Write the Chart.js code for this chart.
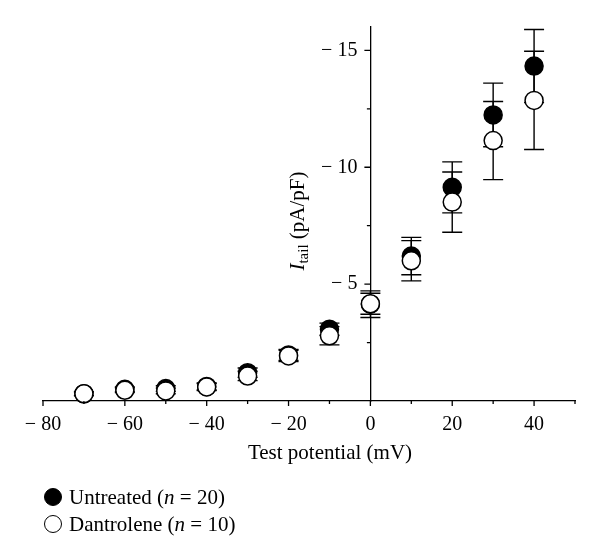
<!DOCTYPE html>
<html>
<head>
<meta charset="utf-8">
<script src="https://cdn.jsdelivr.net/npm/chart.js@4.4.1/dist/chart.umd.min.js"></script>
<style>
  html, body { margin: 0; padding: 0; background: #fff; }
  #wrap { position: relative; width: 600px; height: 557px; }
  .row { position: absolute; left: 44px; height: 28px; display: flex; align-items: center;
         font: 21px "Liberation Serif", serif; color: #000; white-space: nowrap; }
  .dot { width: 18px; height: 18px; border-radius: 50%; border: 1.5px solid #000;
         box-sizing: border-box; margin-right: 7px; }
</style>
</head>
<body>
<div id="wrap">
  <canvas id="myChart" width="600" height="557"></canvas>
  <div class="row" style="top: 483px;"><span class="dot" style="background:#000"></span>Untreated (<i>n</i>&nbsp;=&nbsp;20)</div>
  <div class="row" style="top: 510px;"><span class="dot" style="background:#fff"></span>Dantrolene (<i>n</i>&nbsp;=&nbsp;10)</div>
</div>
<script>
(() => {
    'use strict';

    // Dữ liệu
    const potentials = [-70, -60, -50, -40, -30, -20, -10, 0, 10, 20, 30, 40];
    const untreated = [-0.31, -0.50, -0.53, -0.62, -1.21, -1.97, -3.07, -4.14, -6.20, -9.14, -12.24, -14.33];
    const untreatedErr = [0.08, 0.10, 0.12, 0.15, 0.20, 0.24, 0.26, 0.57, 0.80, 1.09, 1.36, 1.56];
    const dantrolene = [-0.31, -0.46, -0.43, -0.60, -1.07, -1.93, -2.79, -4.16, -6.00, -8.51, -11.14, -12.86];
    const dantroleneErr = [0.08, 0.10, 0.12, 0.15, 0.20, 0.24, 0.39, 0.45, 0.86, 1.29, 1.67, 2.10];

    const xTickValues = [-80, -60, -40, -20, 0, 20, 40];
    const xTickLabels = ['\u2212 80', '\u2212 60', '\u2212 40', '\u2212 20', '0', '20', '40'];
    const xMinorTicks = [-70, -50, -30, -10, 10, 30, 50];
    const yTickValues = [-5, -10, -15];
    const yTickLabels = ['\u2212 5', '\u2212 10', '\u2212 15'];
    const yMinorTicks = [-2.5, -7.5, -12.5];

    const FONT = '"Liberation Serif", serif';

    // Vẽ thanh sai số
    const errorBars = {
        id: 'errorBars',
        beforeDatasetsDraw(chart) {
            const {ctx, scales: {x, y}} = chart;
            ctx.save();
            ctx.strokeStyle = '#000';
            ctx.lineWidth = 1.4;
            chart.data.datasets.forEach(ds => {
                ds.data.forEach((p, i) => {
                    const e = ds.errors[i];
                    const px = x.getPixelForValue(p.x);
                    const top = y.getPixelForValue(p.y - e);
                    const bot = y.getPixelForValue(p.y + e);
                    ctx.beginPath();
                    ctx.moveTo(px, top); ctx.lineTo(px, bot);
                    ctx.moveTo(px - 10, top); ctx.lineTo(px + 10, top);
                    ctx.moveTo(px - 10, bot); ctx.lineTo(px + 10, bot);
                    ctx.stroke();
                });
            });
            ctx.restore();
        }
    };

    // Vạch chia, nhãn trục y và tiêu đề trục
    const axisDecor = {
        id: 'axisDecor',
        afterDraw(chart) {
            const {ctx, scales: {x, y}} = chart;
            const x0 = x.getPixelForValue(0);
            const yb = y.getPixelForValue(0);
            ctx.save();
            ctx.strokeStyle = '#000';
            ctx.lineWidth = 1.3;
            ctx.beginPath();
            xTickValues.forEach(v => { const p = x.getPixelForValue(v); ctx.moveTo(p, yb); ctx.lineTo(p, yb + 5); });
            xMinorTicks.forEach(v => { const p = x.getPixelForValue(v); ctx.moveTo(p, yb); ctx.lineTo(p, yb + 3); });
            yTickValues.forEach(v => { const p = y.getPixelForValue(v); ctx.moveTo(x0, p); ctx.lineTo(x0 - 6, p); });
            yMinorTicks.forEach(v => { const p = y.getPixelForValue(v); ctx.moveTo(x0, p); ctx.lineTo(x0 - 3.5, p); });
            ctx.stroke();

            ctx.fillStyle = '#000';
            ctx.font = '20px ' + FONT;
            ctx.textAlign = 'right';
            ctx.textBaseline = 'middle';
            yTickValues.forEach((v, i) => ctx.fillText(yTickLabels[i], x0 - 13, y.getPixelForValue(v)));

            // tiêu đề trục x
            ctx.font = '21px ' + FONT;
            ctx.textAlign = 'center';
            ctx.textBaseline = 'alphabetic';
            ctx.fillText('Test potential (mV)', (x.left + x.right) / 2 + 21, 459);

            // tiêu đề trục y: I_tail (pA/pF)
            const parts = [
                {t: 'I', f: 'italic 21px ' + FONT, dy: 0},
                {t: 'tail', f: '15px ' + FONT, dy: 4},
                {t: ' (pA/pF)', f: '21px ' + FONT, dy: 0}
            ];
            let total = 0;
            parts.forEach(p => { ctx.font = p.f; p.w = ctx.measureText(p.t).width; total += p.w; });
            ctx.translate(x0 - 66, y.getPixelForValue(-7.7));
            ctx.rotate(-Math.PI / 2);
            ctx.textAlign = 'left';
            let cx = -total / 2;
            parts.forEach(p => { ctx.font = p.f; ctx.fillText(p.t, cx, p.dy); cx += p.w; });
            ctx.restore();
        }
    };

    const ctx = document.getElementById('myChart');

    new Chart(ctx, {
        type: 'scatter',
        data: {
            datasets: [{
                label: 'Dantrolene (n = 10)',
                data: potentials.map((v, i) => ({x: v, y: dantrolene[i]})),
                errors: dantroleneErr,
                pointRadius: 9,
                pointBackgroundColor: '#fff',
                pointBorderColor: '#000',
                pointBorderWidth: 1.5,
                order: 0,
                clip: false
            }, {
                label: 'Untreated (n = 20)',
                data: potentials.map((v, i) => ({x: v, y: untreated[i]})),
                errors: untreatedErr,
                pointRadius: 9,
                pointBackgroundColor: '#000',
                pointBorderColor: '#000',
                pointBorderWidth: 1.5,
                order: 1,
                clip: false
            }]
        },
        options: {
            responsive: false,
            animation: false,
            events: [],
            layout: {
                padding: {left: 43, right: 25, top: 27, bottom: 108}
            },
            plugins: {
                legend: {display: false},
                tooltip: {enabled: false}
            },
            scales: {
                x: {
                    type: 'linear',
                    min: -80,
                    max: 50,
                    position: 'bottom',
                    grid: {display: false, drawTicks: false},
                    border: {color: '#000', width: 1.3},
                    ticks: {
                        stepSize: 10,
                        padding: 12,
                        autoSkip: false,
                        maxRotation: 0,
                        color: '#000',
                        font: {family: FONT, size: 20},
                        callback: v => {
                            const i = xTickValues.indexOf(v);
                            return i < 0 ? '' : xTickLabels[i];
                        }
                    }
                },
                y: {
                    type: 'linear',
                    min: -16,
                    max: 0,
                    reverse: true,
                    position: {x: 0},
                    grid: {display: false, drawTicks: false},
                    border: {color: '#000', width: 1.3},
                    ticks: {display: false}
                }
            }
        },
        plugins: [errorBars, axisDecor]
    });
})();
</script>
</body>
</html>
